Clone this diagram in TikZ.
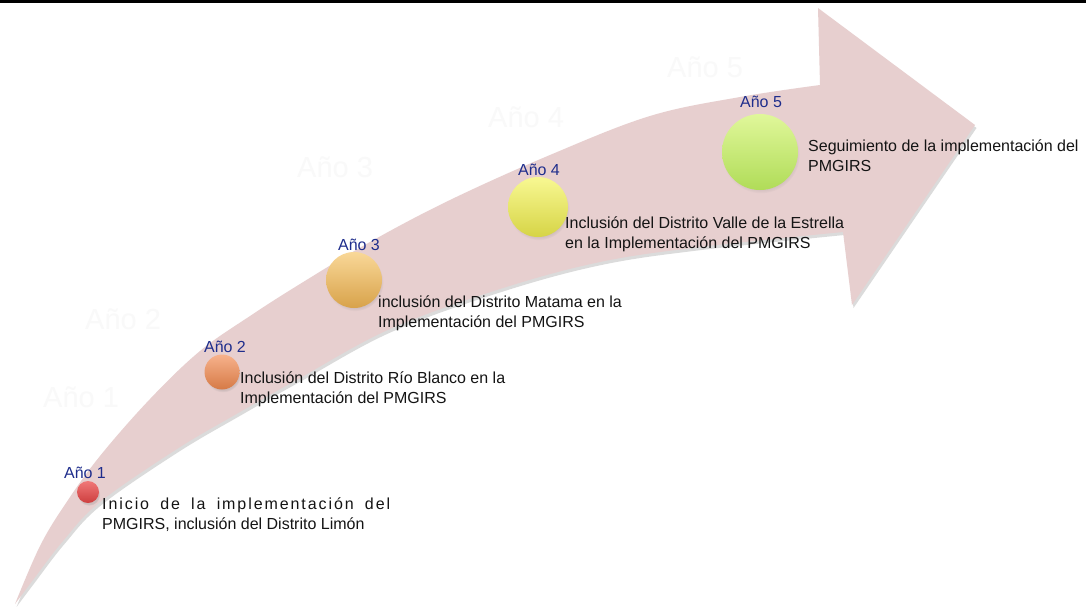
\documentclass[tikz,border=0pt]{standalone}
\usepackage{fontspec}
\setmainfont{Liberation Sans}
\usetikzlibrary{shadows}
\definecolor{arrowpink}{RGB}{231,207,207}
\definecolor{yearblue}{RGB}{30,45,140}
\definecolor{desc}{RGB}{20,20,20}
\tikzset{
  yearlbl/.style={text=yearblue, font=\fontsize{16}{19}\selectfont, inner sep=0pt, anchor=base},
  desctxt/.style={text=desc, font=\fontsize{16}{20}\selectfont, inner sep=0pt, anchor=north west, align=left},
  ghost/.style={text=black!2.5, font=\fontsize{29}{30}\selectfont, inner sep=0pt, anchor=base west},
  dot/.style={circle, inner sep=0pt, circular drop shadow={shadow xshift=1pt, shadow yshift=-2.5pt, opacity=0.25, shadow scale=1.02}}
}
\begin{document}
\begin{tikzpicture}[x=1pt,y=-1pt]
\useasboundingbox (0,0) rectangle (1086,606);
\fill[white] (0,0) rectangle (1086,606);
\fill[black] (0,0) rectangle (1086,2.6);
% ghost labels
\node[ghost] (g1) at (43,407) {Año 1};
\node[ghost] (g2) at (85,329) {Año 2};
\node[ghost] (g3) at (297,177) {Año 3};
\node[ghost] (g4) at (488,127) {Año 4};
\node[ghost] (g5) at (667,77) {Año 5};
% arrow shadow
\def\arrowpath{plot[smooth, tension=0.6] coordinates {(15,604) (40,546) (66,503) (100,456) (150,399) (200,351) (250,316) (300,284) (370,242) (450,200) (550,155) (650,116) (740,97) (820,85)} -- (818,8) -- (975,125) -- (852,305) -- (843,232) -- plot[smooth, tension=0.6] coordinates {(843,232) (700,247) (600,262) (500,289) (390,329) (300,378) (240,412) (177,449) (100,502) (63,541) (33,580) (15,604)} -- cycle}
\fill[black, opacity=0.14, shift={(1.5,3)}] \arrowpath;
\fill[arrowpink] \arrowpath;
% dots
\node[dot, minimum size=22pt, top color={rgb,255:red,240;green,120;blue,120}, bottom color={rgb,255:red,205;green,62;blue,62}] (d1) at (88,492) {};
\node[dot, minimum size=35pt, top color={rgb,255:red,247;green,178;blue,140}, bottom color={rgb,255:red,214;green,122;blue,70}] (d2) at (222,372) {};
\node[dot, minimum size=56pt, top color={rgb,255:red,249;green,216;blue,152}, bottom color={rgb,255:red,216;green,162;blue,74}] (d3) at (354,280) {};
\node[dot, minimum size=60pt, top color={rgb,255:red,248;green,248;blue,146}, bottom color={rgb,255:red,214;green,212;blue,70}] (d4) at (538,207) {};
\node[dot, minimum size=76pt, top color={rgb,255:red,224;green,247;blue,154}, bottom color={rgb,255:red,176;green,220;blue,88}] (d5) at (760,152) {};
% year labels
\node[yearlbl] (y1) at (85,478) {Año 1};
\node[yearlbl] (y2) at (225,352) {Año 2};
\node[yearlbl] (y3) at (359,250) {Año 3};
\node[yearlbl] (y4) at (539,175) {Año 4};
\node[yearlbl] (y5) at (761,107) {Año 5};
% descriptions
\node[desctxt] (t1) at (102,498) {\makebox[288pt][s]{\addfontfeature{LetterSpace=12}Inicio de la implementación del}\\PMGIRS, inclusión del Distrito Limón};
\node[desctxt] (t2) at (240,372) {Inclusión del Distrito Río Blanco en la\\Implementación del PMGIRS};
\node[desctxt] (t3) at (378,296) {inclusión del Distrito Matama en la\\Implementación del PMGIRS};
\node[desctxt] (t4) at (565,217) {Inclusión del Distrito Valle de la Estrella\\en la Implementación del PMGIRS};
\node[desctxt] (t5) at (808,140) {Seguimiento de la implementación del\\PMGIRS};
\end{tikzpicture}
\end{document}
